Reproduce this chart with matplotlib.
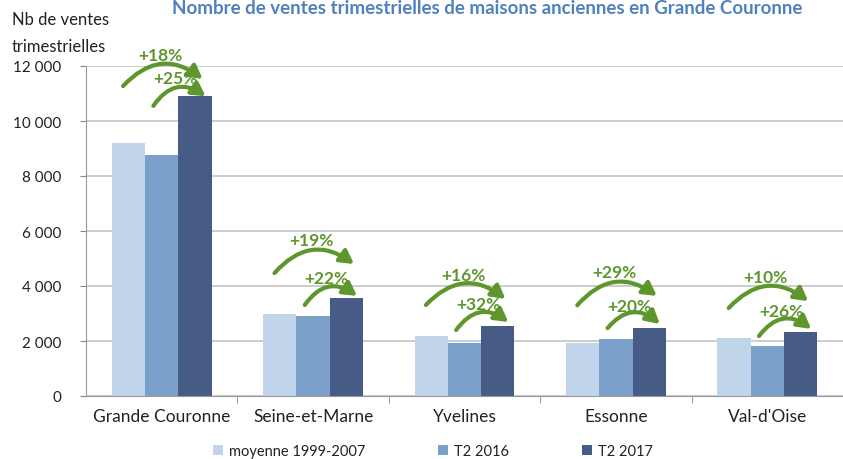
import matplotlib.pyplot as plt
import numpy as np

# données
categories = ['Grande Couronne', 'Seine-et-Marne', 'Yvelines', 'Essonne', "Val-d'Oise"]
moyenne_1999_2007 = [9200, 2980, 2200, 1940, 2100]
t2_2016 = [8750, 2920, 1930, 2070, 1830]
t2_2017 = [10900, 3560, 2550, 2490, 2310]
evol_moyenne = ['+18%', '+19%', '+16%', '+29%', '+10%']
evol_2016 = ['+25%', '+22%', '+32%', '+20%', '+26%']
series_labels = ['moyenne 1999-2007', 'T2 2016', 'T2 2017']

# position des flèches (hauteur de départ / arrivée)
arc_long = [(11270, 11530), (4470, 4800), (3310, 3530), (3300, 3640), (3200, 3450)]
arc_court = [(10550, 10900), (3310, 3640), (2400, 2690), (2470, 2620), (2180, 2440)]

plt.rcParams['font.family'] = ['Lato', 'DejaVu Sans']
couleurs = ['#C0D4EA', '#7BA1CB', '#465B86']
vert = '#5E962E'
gris = '#C8C8C8'
texte = '#222222'

fig = plt.figure(figsize=(8.43, 4.6), dpi=100)
ax = fig.add_axes([86 / 843, 1 - 397 / 460, 1 - 86 / 843, 330 / 460])

x = np.arange(len(categories))
w = 0.22
for i, (vals, c, lab) in enumerate(zip([moyenne_1999_2007, t2_2016, t2_2017], couleurs, series_labels)):
    ax.bar(x + (i - 1) * w, vals, width=w, color=c, label=lab, zorder=2)

ax.set_ylim(0, 12000)
ax.set_xlim(-0.5, 4.385)
ax.set_yticks(range(0, 12001, 2000))
ax.set_yticklabels([f'{v:,}'.replace(',', ' ') for v in range(0, 12001, 2000)])
ax.set_xticks(x)
ax.set_xticklabels(categories)
ax.set_xticks(np.arange(len(categories)) + 0.5, minor=True)
ax.tick_params(axis='x', which='major', length=0, labelsize=12.5, pad=9, colors=texte)
ax.tick_params(axis='x', which='minor', length=5, color='#888888')
ax.tick_params(axis='y', length=4, color='#888888', labelsize=11, pad=14, labelcolor=texte)
ax.grid(True, axis='y', color=gris, linewidth=1.3, zorder=0)
for s in ['top', 'right']:
    ax.spines[s].set_visible(False)
ax.spines['left'].set_color('#999999')
ax.spines['bottom'].set_color('#999999')

# flèches d'évolution
fleche = '-|>,head_length=0.8,head_width=0.45'
for i in range(len(categories)):
    (y0, y1), (z0, z1) = arc_long[i], arc_court[i]
    ax.annotate('', xy=(i + 0.27, y1), xytext=(i - 0.255, y0),
                arrowprops=dict(arrowstyle=fleche, color=vert, lw=3,
                                connectionstyle='arc3,rad=-0.45', shrinkA=0, shrinkB=0), zorder=4)
    ax.annotate('', xy=(i + 0.29, z1), xytext=(i - 0.055, z0),
                arrowprops=dict(arrowstyle=fleche, color=vert, lw=3,
                                connectionstyle='arc3,rad=-0.5', shrinkA=0, shrinkB=0), zorder=4)
    ax.text(i - 0.01, max(y0, y1) + 880, evol_moyenne[i], color=vert, fontsize=12.5, fontweight='bold',
            ha='center', va='center', zorder=5)
    ax.text(i + 0.09, max(z0, z1) + 650, evol_2016[i], color=vert, fontsize=12.5, fontweight='bold',
            ha='center', va='center', zorder=5)

fig.text(487 / 843, 1 - 8 / 460, 'Nombre de ventes trimestrielles de maisons anciennes en Grande Couronne',
         color='#4F81BD', fontsize=13.5, fontweight='bold', ha='center', va='center')
fig.text(12 / 843, 1 - 20 / 460, 'Nb de ventes', fontsize=12, ha='left', va='center', color=texte)
fig.text(12 / 843, 1 - 47 / 460, 'trimestrielles', fontsize=12, ha='left', va='center', color=texte)

fig.legend(loc='center', bbox_to_anchor=(433 / 843, 1 - 452 / 460), ncol=3, frameon=False,
           fontsize=10.5, handlelength=0.7, handleheight=0.7, handletextpad=0.4, columnspacing=5.0,
           borderpad=0, labelcolor=texte)

fig.savefig('out.png', dpi=100)
